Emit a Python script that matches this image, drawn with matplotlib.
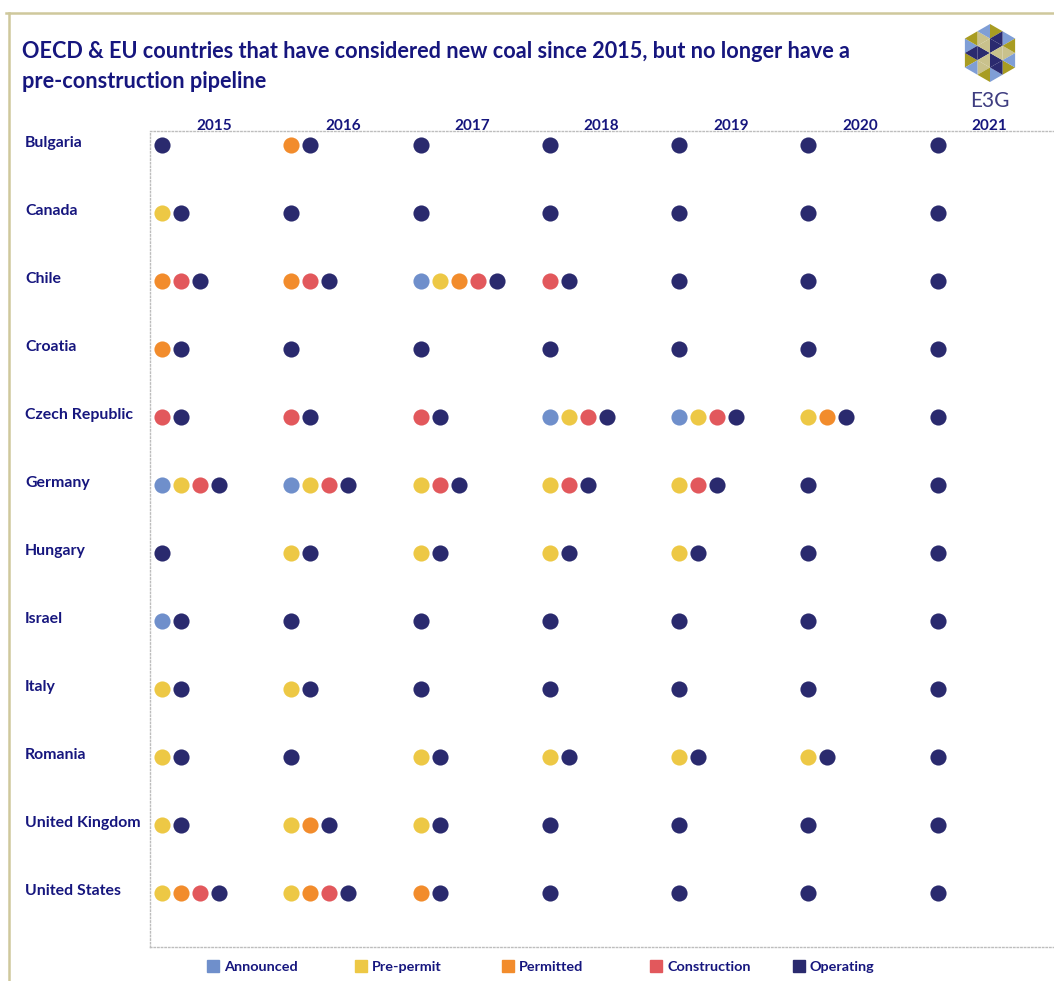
import numpy as np
import matplotlib.pyplot as plt
from matplotlib.patches import Polygon, Rectangle
from matplotlib.lines import Line2D
from matplotlib.transforms import blended_transform_factory

plt.rcParams['font.family'] = ['Lato', 'DejaVu Sans']

years = ['2015', '2016', '2017', '2018', '2019', '2020', '2021']
countries = ['Bulgaria', 'Canada', 'Chile', 'Croatia', 'Czech Republic', 'Germany',
             'Hungary', 'Israel', 'Italy', 'Romania', 'United Kingdom', 'United States']
stages = ['Announced', 'Pre-permit', 'Permitted', 'Construction', 'Operating']
stage_colors = ['#6F8FCB', '#EDC845', '#F28C2C', '#E2585C', '#2A2A6E']

# stage codes per country per year: A announced, P pre-permit, M permitted, C construction, O operating
bulgaria = ['O', 'MO', 'O', 'O', 'O', 'O', 'O']
canada = ['PO', 'O', 'O', 'O', 'O', 'O', 'O']
chile = ['MCO', 'MCO', 'APMCO', 'CO', 'O', 'O', 'O']
croatia = ['MO', 'O', 'O', 'O', 'O', 'O', 'O']
czech = ['CO', 'CO', 'CO', 'APCO', 'APCO', 'PMO', 'O']
germany = ['APCO', 'APCO', 'PCO', 'PCO', 'PCO', 'O', 'O']
hungary = ['O', 'PO', 'PO', 'PO', 'PO', 'O', 'O']
israel = ['AO', 'O', 'O', 'O', 'O', 'O', 'O']
italy = ['PO', 'PO', 'O', 'O', 'O', 'O', 'O']
romania = ['PO', 'O', 'PO', 'PO', 'PO', 'PO', 'O']
uk = ['PO', 'PMO', 'PO', 'O', 'O', 'O', 'O']
us = ['PMCO', 'PMCO', 'MO', 'O', 'O', 'O', 'O']
pipeline = [bulgaria, canada, chile, croatia, czech, germany,
            hungary, israel, italy, romania, uk, us]
codes = 'APMCO'

navy = '#16167E'
W, H = 1054, 981
fig = plt.figure(figsize=(W / 100, H / 100), dpi=100)

# frame lines (tan)
fig.add_artist(Line2D([6 / W, 1], [1 - 13 / H, 1 - 13 / H], color='#CFC89C', lw=1.8))
fig.add_artist(Line2D([9 / W, 9 / W], [0, 1 - 13 / H], color='#CFC89C', lw=1.8))

# main axes
x0, x1, y0, y1 = 150, 1054, 131, 947
ax = fig.add_axes([x0 / W, 1 - y1 / H, (x1 - x0) / W, (y1 - y0) / H])
step = 129.3
dstep = 19 / step
ax.set_xlim((x0 - 162) / step, (x1 - 162) / step)
ax.set_ylim((y1 - 145) / 68, (y0 - 145) / 68)
ax.set_xticks([])
ax.set_yticks([])
for s in ['top', 'left', 'bottom']:
    ax.spines[s].set_linestyle((0, (1, 1.6)))
    ax.spines[s].set_color('#BDBDBD')
    ax.spines[s].set_linewidth(1.0)
ax.spines['right'].set_visible(False)

for r, row in enumerate(pipeline):
    for yi, cell in enumerate(row):
        for j, c in enumerate(cell):
            ax.scatter(yi + j * dstep, r, s=135, color=stage_colors[codes.index(c)],
                       linewidths=0, zorder=3, clip_on=False)

for yi, y in enumerate(years):
    ax.text(yi + 0.4, -0.28, y, ha='center', va='center', fontsize=11,
            fontweight='bold', color=navy, clip_on=False)

tr = blended_transform_factory(fig.transFigure, ax.transData)
for r, c in enumerate(countries):
    ax.text(25 / W, r - 0.03, c, transform=tr, ha='left', va='center', fontsize=11.4,
            fontweight='bold', color=navy, clip_on=False)

# title
fig.text(22 / W, 1 - 52 / H, 'OECD & EU countries that have considered new coal since 2015, but no longer have a',
         ha='left', va='center', fontsize=15.6, fontweight='bold', color=navy)
fig.text(22 / W, 1 - 81 / H, 'pre-construction pipeline',
         ha='left', va='center', fontsize=15.6, fontweight='bold', color=navy)

# legend
leg_x = [213, 361, 508, 656, 799]
for lx, name, col in zip(leg_x, stages, stage_colors):
    fig.add_artist(Rectangle(((lx - 6) / W, 1 - 972 / H), 12 / W, 12 / H, color=col,
                             transform=fig.transFigure))
    fig.text((lx + 11) / W, 1 - 967 / H, name, ha='left', va='center', fontsize=10.4,
             fontweight='bold', color=navy)

# E3G logo: hexagon of triangles
lax = fig.add_axes([955 / W, 1 - 88 / H, 70 / W, 70 / H])
lax.set_xlim(-35, 35)
lax.set_ylim(-35, 35)
lax.set_aspect('equal')
lax.axis('off')
R = 29.0
sd = R / 2
a1 = np.array([0, sd])
a2 = np.array([sd * np.sqrt(3) / 2, sd / 2])
logo_cols = {'lb': '#7F9ED6', 'kh': '#C9C18C', 'ol': '#A89C22', 'nv': '#2B2A6F'}
apo = R * np.sqrt(3) / 2
for i in range(-5, 6):
    for j in range(-5, 6):
        p = i * a1 + j * a2
        for k, tri in enumerate([[p, p + a1, p + a2], [p, p + a2, p + a2 - a1]]):
            tri = np.array(tri)
            cx, cy = tri.mean(axis=0)
            if abs(cx) > apo or abs(cx) / 2 + abs(cy) * np.sqrt(3) / 2 > apo:
                continue
            d = np.hypot(cx, cy)
            ang = (np.degrees(np.arctan2(cy, cx)) + 360) % 360
            sector = int(ang // 60)
            if d < sd * 0.7:
                col = 'nv' if k == 0 else 'kh'
            elif d < sd * 1.2:
                col = 'kh' if sector % 2 == 0 else 'nv'
            else:
                col = 'lb' if (sector + k) % 2 == 0 else 'ol'
            lax.add_patch(Polygon(tri, closed=True, color=logo_cols[col], lw=0))
fig.text(990 / W, 1 - 101 / H, 'E3G', ha='center', va='center', fontsize=15,
         color='#3F3D80')

fig.savefig('out.png', dpi=100)
